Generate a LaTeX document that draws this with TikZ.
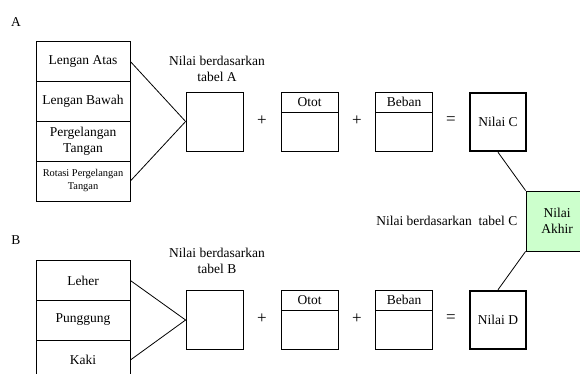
\documentclass[tikz,border=0pt]{standalone}
\usepackage{fontspec}
\setmainfont{Liberation Serif}
\definecolor{akhirgreen}{HTML}{CCFFCC}
\begin{document}
\begin{tikzpicture}[x=1pt,y=-1pt,line width=0.8pt,font=\fontsize{13.5}{16}\selectfont]
  \tikzstyle{row}=[draw,minimum width=94pt,minimum height=40pt,inner sep=0pt,align=center]
  \tikzstyle{kotak}=[draw,minimum width=57pt,minimum height=59pt,inner sep=0pt]
  \tikzstyle{judul}=[draw,minimum width=57pt,minimum height=20pt,inner sep=0pt]
  \tikzstyle{isi}=[draw,minimum width=57pt,minimum height=39pt,inner sep=0pt]
  \tikzstyle{hasil}=[draw,line width=2.5pt,minimum width=56pt,minimum height=58pt,inner sep=0pt]
  \tikzstyle{op}=[font=\fontsize{17}{20}\selectfont]
  \useasboundingbox (0,0) rectangle (580,374);
  \clip (0,0) rectangle (580,374);

  % bagian A
  \node (lbl-A) at (16,22) {A};
  \node[row] (A-r1) at (83,61.5) {Lengan Atas};
  \node[row] (A-r2) at (83,101) {Lengan Bawah};
  \node[row] (A-r3) at (83,141) {Pergelangan\\Tangan};
  \node[row,font=\fontsize{10.4}{13}\selectfont] (A-r4) at (83,181) {Rotasi Pergelangan\\Tangan};
  \node[kotak] (A-sq) at (214.5,121.5) {};
  \node[align=center] (A-ket) at (217,69) {Nilai berdasarkan\\tabel A};
  \draw (A-r1.east) -- (A-sq.west);
  \draw (A-r4.east) -- (A-sq.west);

  \node[op] (A-p1) at (262,121) {+};
  \node[judul] (A-otot) at (309.5,102) {Otot};
  \node[isi] (A-ototv) at (309.5,131.5) {};
  \node[op] (A-p2) at (357,121) {+};
  \node[judul] (A-beban) at (404,102) {Beban};
  \node[isi] (A-bebanv) at (404,131.5) {};
  \node[op] (A-eq) at (451,121) {=};
  \node[hasil] (nilaiC) at (498,122) {Nilai C};

  % nilai akhir
  \node[draw,fill=akhirgreen,minimum width=62pt,minimum height=60pt,align=center,inner sep=0pt] (akhir) at (557,221) {Nilai\\Akhir};
  \node[anchor=east] (ket-C) at (521,221) {Nilai berdasarkan\ \ tabel C};
  \draw (nilaiC.south) -- (akhir.north west);

  % bagian B
  \node (lbl-B) at (16,240) {B};
  \node[row] (B-r1) at (83,280.5) {Leher};
  \node[row] (B-r2) at (83,320) {Punggung};
  \node[row] (B-r3) at (83,360) {Kaki};
  \node[kotak] (B-sq) at (214.5,320) {};
  \node[align=center] (B-ket) at (217,261) {Nilai berdasarkan\\tabel B};
  \draw (B-r1.east) -- (B-sq.west);
  \draw (B-r3.east) -- (B-sq.west);

  \node[op] (B-p1) at (262,319) {+};
  \node[judul] (B-otot) at (309.5,300) {Otot};
  \node[isi] (B-ototv) at (309.5,330) {};
  \node[op] (B-p2) at (357,319) {+};
  \node[judul] (B-beban) at (404,300) {Beban};
  \node[isi] (B-bebanv) at (404,330) {};
  \node[op] (B-eq) at (451,319) {=};
  \node[hasil] (nilaiD) at (498,320) {Nilai D};
  \draw (nilaiD.north) -- (akhir.south west);

\end{tikzpicture}
\end{document}
